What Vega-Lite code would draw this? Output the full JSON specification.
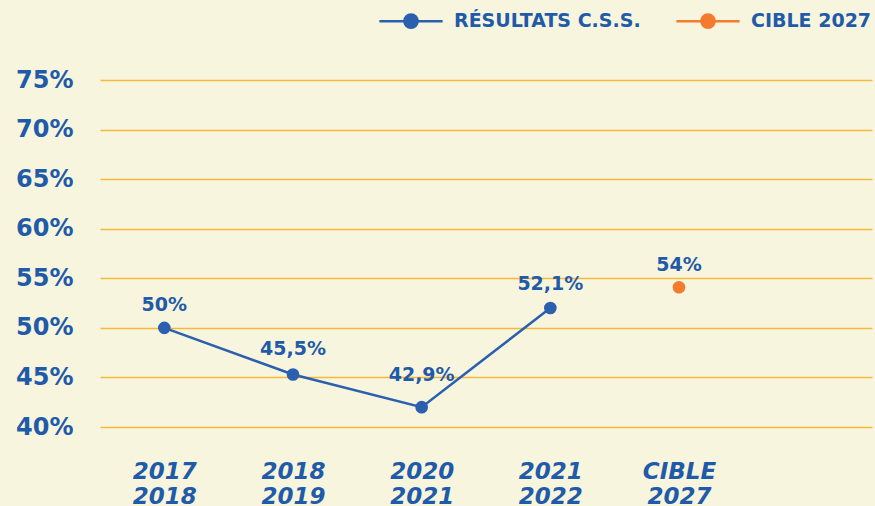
{
  "$schema": "https://vega.github.io/schema/vega-lite/v6.json",
  "autosize": {"type": "none"},
  "width": 772,
  "height": 347,
  "padding": {"left": 100, "top": 80, "right": 3, "bottom": 79},
  "background": "#f8f5df",
  "config": {
    "view": {"stroke": null},
    "font": "DejaVu Sans"
  },
  "data": {
    "values": [
      {"periode": "2017|2018", "point": 50.0, "valeur": 50.0, "etiquette": "50%", "serie": "RÉSULTATS C.S.S."},
      {"periode": "2018|2019", "point": 45.3, "valeur": 45.5, "etiquette": "45,5%", "serie": "RÉSULTATS C.S.S."},
      {"periode": "2020|2021", "point": 42.0, "valeur": 42.9, "etiquette": "42,9%", "serie": "RÉSULTATS C.S.S."},
      {"periode": "2021|2022", "point": 52.0, "valeur": 52.1, "etiquette": "52,1%", "serie": "RÉSULTATS C.S.S."},
      {"periode": "CIBLE|2027", "point": 54.1, "valeur": 54.0, "etiquette": "54%", "serie": "CIBLE 2027"}
    ]
  },
  "encoding": {
    "x": {
      "field": "periode",
      "type": "nominal",
      "sort": null,
      "scale": {"type": "point", "padding": 0.5, "domain": ["2017|2018", "2018|2019", "2020|2021", "2021|2022", "CIBLE|2027", " "]},
      "axis": {
        "title": null,
        "domain": false,
        "ticks": false,
        "grid": false,
        "labelAngle": 0,
        "labelExpr": "split(datum.label, '|')",
        "labelFont": "DejaVu Sans",
        "labelFontWeight": "bold",
        "labelFontStyle": "italic",
        "labelFontSize": 23,
        "labelLineHeight": 25,
        "labelColor": "#1f5ba8",
        "labelPadding": 33
      }
    }
  },
  "layer": [
    {
      "transform": [{"filter": "datum.serie == 'RÉSULTATS C.S.S.'"}],
      "mark": {"type": "line", "strokeWidth": 2.5},
      "encoding": {
        "y": {
          "field": "point",
          "type": "quantitative",
          "scale": {"domain": [40, 75], "nice": false, "zero": false},
          "axis": {
            "title": null,
            "values": [40, 45, 50, 55, 60, 65, 70, 75],
            "labelExpr": "datum.value + '%'",
            "domain": false,
            "ticks": false,
            "grid": true,
            "gridColor": "#f8b83b",
            "gridWidth": 1.5,
            "labelFont": "DejaVu Sans",
            "labelFontWeight": "bold",
            "labelFontSize": 24,
            "labelColor": "#1f5ba8",
            "labelPadding": 27
          }
        },
        "color": {
          "field": "serie",
          "type": "nominal",
          "scale": {"domain": ["RÉSULTATS C.S.S.", "CIBLE 2027"], "range": ["#2b60ae", "#f47b2e"]},
          "legend": {
            "title": null,
            "orient": "none",
            "direction": "horizontal",
            "legendX": 278,
            "legendY": -92,
            "padding": 0,
            "symbolType": "M-1,0L1,0M0.21,0A0.21,0.21,0,1,1,-0.21,0A0.21,0.21,0,1,1,0.21,0Z",
            "symbolSize": 4000,
            "symbolStrokeWidth": 2.5,
            "symbolOpacity": 1,
            "labelFont": "DejaVu Sans",
            "labelFontWeight": "bold",
            "labelFontSize": 19,
            "labelColor": "#1f5ba8",
            "labelOffset": 10,
            "columnPadding": 30,
            "labelLimit": 400,
            "encode": {
              "symbols": {"update": {"stroke": {"scale": "color", "field": "value"}, "fill": {"scale": "color", "field": "value"}}}
            }
          }
        }
      }
    },
    {
      "mark": {"type": "point", "filled": true, "size": 160, "opacity": 1},
      "encoding": {
        "y": {"field": "point", "type": "quantitative"},
        "color": {"field": "serie", "type": "nominal"}
      }
    },
    {
      "mark": {"type": "text", "dy": -23, "font": "DejaVu Sans", "fontWeight": "bold", "fontSize": 19, "color": "#1f5ba8"},
      "encoding": {
        "y": {"field": "valeur", "type": "quantitative"},
        "text": {"field": "etiquette"}
      }
    }
  ]
}
